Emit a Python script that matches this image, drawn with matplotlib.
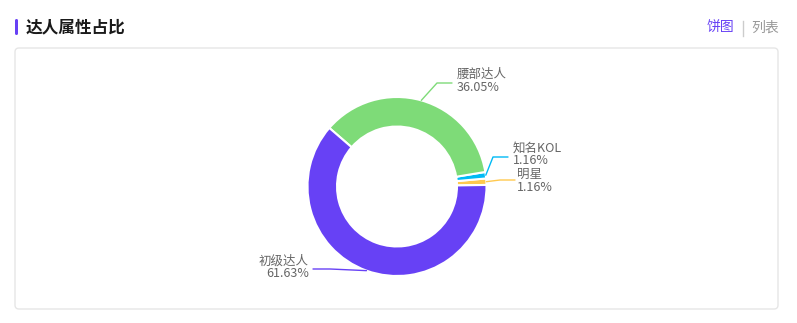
import numpy as np
import matplotlib
matplotlib.use("Agg")
import matplotlib.pyplot as plt
from matplotlib.patches import FancyBboxPatch

plt.rcParams['font.family'] = ['Noto Sans CJK SC', 'DejaVu Sans']

# Data (counter-clockwise from 3 o'clock)
categories = ['明星', '知名KOL', '腰部达人', '初级达人']
shares = [1.16, 1.16, 36.05, 61.63]
colors = ['#FFC94F', '#00BAF5', '#7EDB78', '#6741F5']

title = '达人属性占比'
tabs = ['饼图', '列表']

W, H = 797, 323
fig = plt.figure(figsize=(W / 100, H / 100), dpi=100)

# Background layer in pixel coordinates
bg = fig.add_axes([0, 0, 1, 1])
bg.set_xlim(0, W)
bg.set_ylim(H, 0)
bg.axis('off')

bg.add_patch(FancyBboxPatch((15, 48), 763, 261, boxstyle='round,pad=0,rounding_size=4',
                            facecolor='white', edgecolor='#E6E6E6', linewidth=1))
bg.add_patch(FancyBboxPatch((15, 19), 3, 16, boxstyle='round,pad=0,rounding_size=1.5',
                            facecolor='#6741F5', edgecolor='none'))
bg.text(26, 27.5, title, fontsize=12, fontweight='bold', color='#1A1A1A',
        ha='left', va='center')
bg.text(707, 28, tabs[0], fontsize=10, color='#6741F5', ha='left', va='center')
bg.plot([743, 743], [21, 36], color='#CCCCCC', lw=1)
bg.text(751, 28, tabs[1], fontsize=10, color='#999999', ha='left', va='center')

# Donut chart
cx, cy, R = 397, 186.5, 89.5
box = 130
ax = fig.add_axes([(cx - box) / W, (H - cy - box) / H, 2 * box / W, 2 * box / H])
ax.patch.set_visible(False)

start = 1
wedges, _ = ax.pie(shares, colors=colors, radius=R, startangle=start, counterclock=True,
                   wedgeprops=dict(width=R * 0.33, edgecolor='white', linewidth=1.5))
ax.set_xlim(-box, box)
ax.set_ylim(-box, box)
ax.axis('off')

# Label layout: elbow point, end of the leader and text anchor (offsets from centre, pixels)
layout = {
    '明星': dict(elbow=(103, 6.5), end=118, text=(120, 5.5), ha='left'),
    '知名KOL': dict(elbow=(96, 29.5), end=111, text=(116, 32), ha='left'),
    '腰部达人': dict(elbow=(40, 103.5), end=55, text=(60, 105.5), ha='left'),
    '初级达人': dict(elbow=(-67, -82.5), end=-84, text=(-88, -81), ha='right'),
}

for w, cat, val, col in zip(wedges, categories, shares, colors):
    mid = np.deg2rad((w.theta1 + w.theta2) / 2)
    x0, y0 = R * np.cos(mid), R * np.sin(mid)
    lay = layout[cat]
    ex, ey = lay['elbow']
    tx, ty = lay['text']
    ax.plot([x0, ex, lay['end']], [y0, ey, ey], color=col, lw=1,
            solid_capstyle='round', clip_on=False)
    ax.text(tx, ty, f'{cat}\n{val:.2f}%', fontsize=9, color='#666666',
            ha=lay['ha'], va='center', linespacing=0.95, clip_on=False)

fig.savefig('out.png', dpi=100, facecolor='white')
